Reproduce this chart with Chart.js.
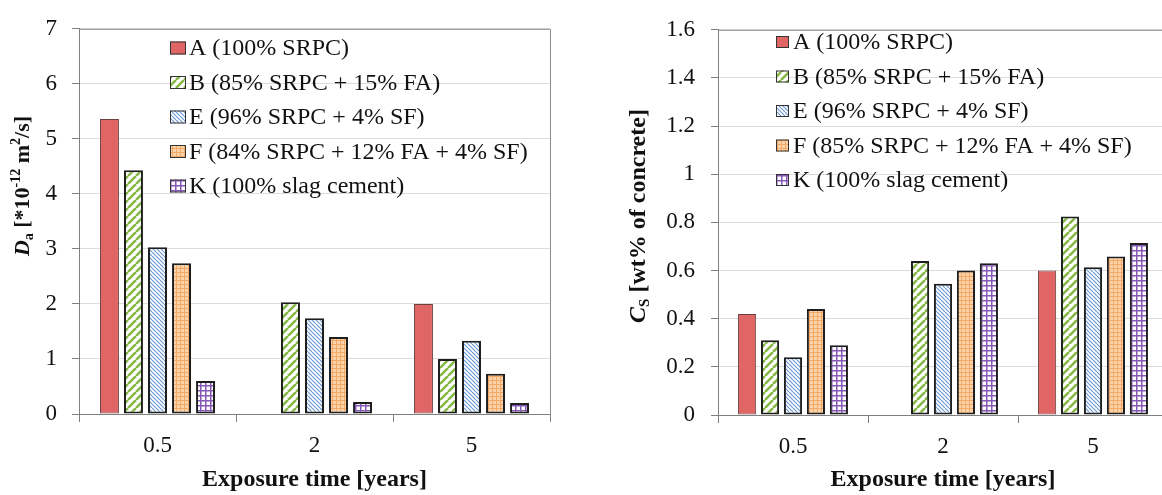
<!DOCTYPE html>
<html>
<head>
<meta charset="utf-8">
<script src="https://cdn.jsdelivr.net/npm/chart.js@4.4.1/dist/chart.umd.min.js"></script>
<style>
  html, body { margin: 0; padding: 0; background: #fff; overflow: hidden; }
  #wrap { position: relative; width: 1162px; height: 495px; overflow: hidden; }
  .box { position: absolute; top: 0; height: 495px; }
  #left { left: 0; width: 581px; }
  #right { left: 581px; width: 600px; }
</style>
</head>
<body>
<div id="wrap">
  <div class="box" id="left"><canvas id="daChart" width="581" height="495"></canvas></div>
  <div class="box" id="right"><canvas id="csChart" width="600" height="495"></canvas></div>
</div>
<script>
// exposure times (x categories)
const years = ['0.5', '2', '5'];

const daLabels = ['A (100% SRPC)', 'B (85% SRPC + 15% FA)', 'E (96% SRPC + 4% SF)',
  'F (84% SRPC + 12% FA + 4% SF)', 'K (100% slag cement)'];
const csLabels = ['A (100% SRPC)', 'B (85% SRPC + 15% FA)', 'E (96% SRPC + 4% SF)',
  'F (85% SRPC + 12% FA + 4% SF)', 'K (100% slag cement)'];

// apparent diffusion coefficient Da [*10^-12 m2/s]
const daA = [5.36, null, 2.00];
const daB = [4.43, 2.03, 1.00];
const daE = [3.03, 1.74, 1.33];
const daF = [2.74, 1.40, 0.73];
const daK = [0.60, 0.22, 0.20];

// surface chloride content Cs [wt% of concrete]
const csA = [0.42, null, 0.60];
const csB = [0.31, 0.64, 0.825];
const csE = [0.24, 0.545, 0.614];
const csF = [0.44, 0.60, 0.658];
const csK = [0.29, 0.63, 0.714];

const serif = "'Liberation Serif', 'Times New Roman', serif";

function makePattern(size, paint) {
  const c = document.createElement('canvas');
  c.width = size; c.height = size;
  const g = c.getContext('2d');
  paint(g, size);
  return g.createPattern(c, 'repeat');
}

const fillA = '#e06666';
const fillB = makePattern(8, (g, s) => {
  g.fillStyle = '#fff'; g.fillRect(0, 0, s, s);
  g.strokeStyle = '#86b846'; g.lineWidth = 2.6;
  g.beginPath();
  for (let k = -1; k <= 1; k++) { g.moveTo(k * s, s); g.lineTo(k * s + s, 0); }
  g.stroke();
});
const fillE = makePattern(4, (g, s) => {
  g.fillStyle = '#fff'; g.fillRect(0, 0, s, s);
  g.strokeStyle = '#6a98d4'; g.lineWidth = 1.2;
  g.beginPath();
  for (let k = -1; k <= 1; k++) { g.moveTo(k * s, 0); g.lineTo(k * s + s, s); }
  g.stroke();
});
const fillF = makePattern(4, (g, s) => {
  g.fillStyle = '#fad3aa'; g.fillRect(0, 0, s, s);
  g.fillStyle = '#f4aa66';
  g.fillRect(0, 0, 1, s);
  g.fillRect(0, 0, s, 1);
});
const fillK = makePattern(5, (g, s) => {
  g.fillStyle = '#fff'; g.fillRect(0, 0, s, s);
  g.fillStyle = '#8659b6';
  g.fillRect(0, 0, 1.5, s);
  g.fillRect(0, 0, s, 1.5);
});

const fills = [fillA, fillB, fillE, fillF, fillK];

// top and right edge of the plot frame
const frame = {
  id: 'frame',
  afterDraw(chart) {
    const { ctx, chartArea: a } = chart;
    ctx.save();
    ctx.strokeStyle = '#8c8c8c';
    ctx.lineWidth = 1;
    ctx.beginPath();
    ctx.moveTo(a.left, a.top + 0.5);
    ctx.lineTo(a.right + 0.5, a.top + 0.5);
    ctx.lineTo(a.right + 0.5, a.bottom);
    ctx.stroke();
    ctx.restore();
  }
};

// legend drawn inside the plot
const boxLegend = {
  id: 'boxLegend',
  afterDraw(chart, args, o) {
    const ctx = chart.ctx;
    ctx.save();
    ctx.font = o.font;
    ctx.textBaseline = 'middle';
    chart.data.datasets.forEach((ds, i) => {
      const y = o.y + i * o.gap;
      ctx.fillStyle = ds.backgroundColor;
      ctx.fillRect(o.x, y - o.h / 2, o.w, o.h);
      ctx.strokeStyle = '#333';
      ctx.lineWidth = 1;
      ctx.strokeRect(o.x + 0.5, y - o.h / 2 + 0.5, o.w - 1, o.h - 1);
      ctx.fillStyle = '#111';
      ctx.fillText(ds.label, o.textX, y + 1);
    });
    ctx.restore();
  }
};

// rotated y title with sub/superscripts
const yTitle = {
  id: 'yTitle',
  afterDraw(chart, args, o) {
    const ctx = chart.ctx;
    ctx.save();
    ctx.translate(o.cx, o.cy);
    ctx.rotate(-Math.PI / 2);
    let total = 0;
    o.parts.forEach(p => { ctx.font = p.font; p.w = ctx.measureText(p.text).width; total += p.w; });
    let x = -total / 2;
    ctx.fillStyle = '#111';
    ctx.textBaseline = 'alphabetic';
    o.parts.forEach(p => {
      ctx.font = p.font;
      ctx.fillText(p.text, x, o.base + (p.dy || 0));
      x += p.w;
    });
    ctx.restore();
  }
};

function makeChart(id, labels, series, cfg) {
  const datasets = series.map((data, i) => ({
    label: labels[i],
    data: data,
    backgroundColor: fills[i],
    borderColor: i === 0 ? '#6b4040' : '#1e1e1e',
    borderWidth: i === 0 ? 1 : 2,
    borderSkipped: false,
    categoryPercentage: 0.765,
    barPercentage: 0.79
  }));
  return new Chart(document.getElementById(id), {
    type: 'bar',
    data: { labels: years, datasets },
    options: {
      responsive: false,
      animation: false,
      layout: { padding: { left: 0, top: cfg.top, right: cfg.right, bottom: 0 } },
      plugins: {
        legend: { display: false },
        tooltip: { enabled: false },
        boxLegend: cfg.legend,
        yTitle: cfg.title
      },
      scales: {
        x: {
          grid: { display: true, drawOnChartArea: false, offset: true, tickLength: 8, tickColor: '#808080' },
          border: { color: '#808080' },
          ticks: { color: '#111', font: { family: serif, size: 23 }, padding: 10 },
          title: {
            display: true, text: 'Exposure time [years]', color: '#111',
            font: { family: serif, size: 24, weight: 'bold' }, padding: { top: 0, bottom: 1 }
          },
          afterFit: s => { s.height = cfg.xh; }
        },
        y: {
          min: 0, max: cfg.max,
          ticks: {
            stepSize: cfg.step, color: '#111', font: { family: serif, size: 23 }, padding: cfg.pad,
            callback: v => String(Number(v.toFixed(1)))
          },
          grid: { color: '#dcdcdc', tickColor: '#808080', tickLength: 7 },
          border: { color: '#808080' },
          afterFit: s => { s.width = cfg.yw; }
        }
      }
    },
    plugins: [frame, boxLegend, yTitle]
  });
}

makeChart('daChart', daLabels, [daA, daB, daE, daF, daK], {
  top: 23, right: 31, xh: 81, yw: 79, max: 7, step: 1, pad: 15,
  legend: { x: 170, y: 48, gap: 34.5, w: 16, h: 13, textX: 189, font: '24px ' + serif },
  title: {
    cx: 21, cy: 186, base: 8,
    parts: [
      { text: 'D', font: 'italic bold 22px ' + serif },
      { text: 'a', font: 'bold 14px ' + serif, dy: 4 },
      { text: ' [*10', font: 'bold 22px ' + serif },
      { text: '-12', font: 'bold 14px ' + serif, dy: -9 },
      { text: ' m', font: 'bold 22px ' + serif },
      { text: '2', font: 'bold 14px ' + serif, dy: -9 },
      { text: '/s]', font: 'bold 22px ' + serif }
    ]
  }
});

makeChart('csChart', csLabels, [csA, csB, csE, csF, csK], {
  top: 17, right: 13, xh: 80, yw: 137, max: 1.6, step: 0.2, pad: 16,
  legend: { x: 195, y: 42, gap: 34.5, w: 13, h: 12, textX: 212, font: '24px ' + serif },
  title: {
    cx: 56, cy: 216, base: 8,
    parts: [
      { text: 'C', font: 'italic bold 24px ' + serif },
      { text: 'S', font: 'bold 15px ' + serif, dy: 4 },
      { text: ' [wt% of concrete]', font: 'bold 24px ' + serif }
    ]
  }
});
</script>
</body>
</html>
